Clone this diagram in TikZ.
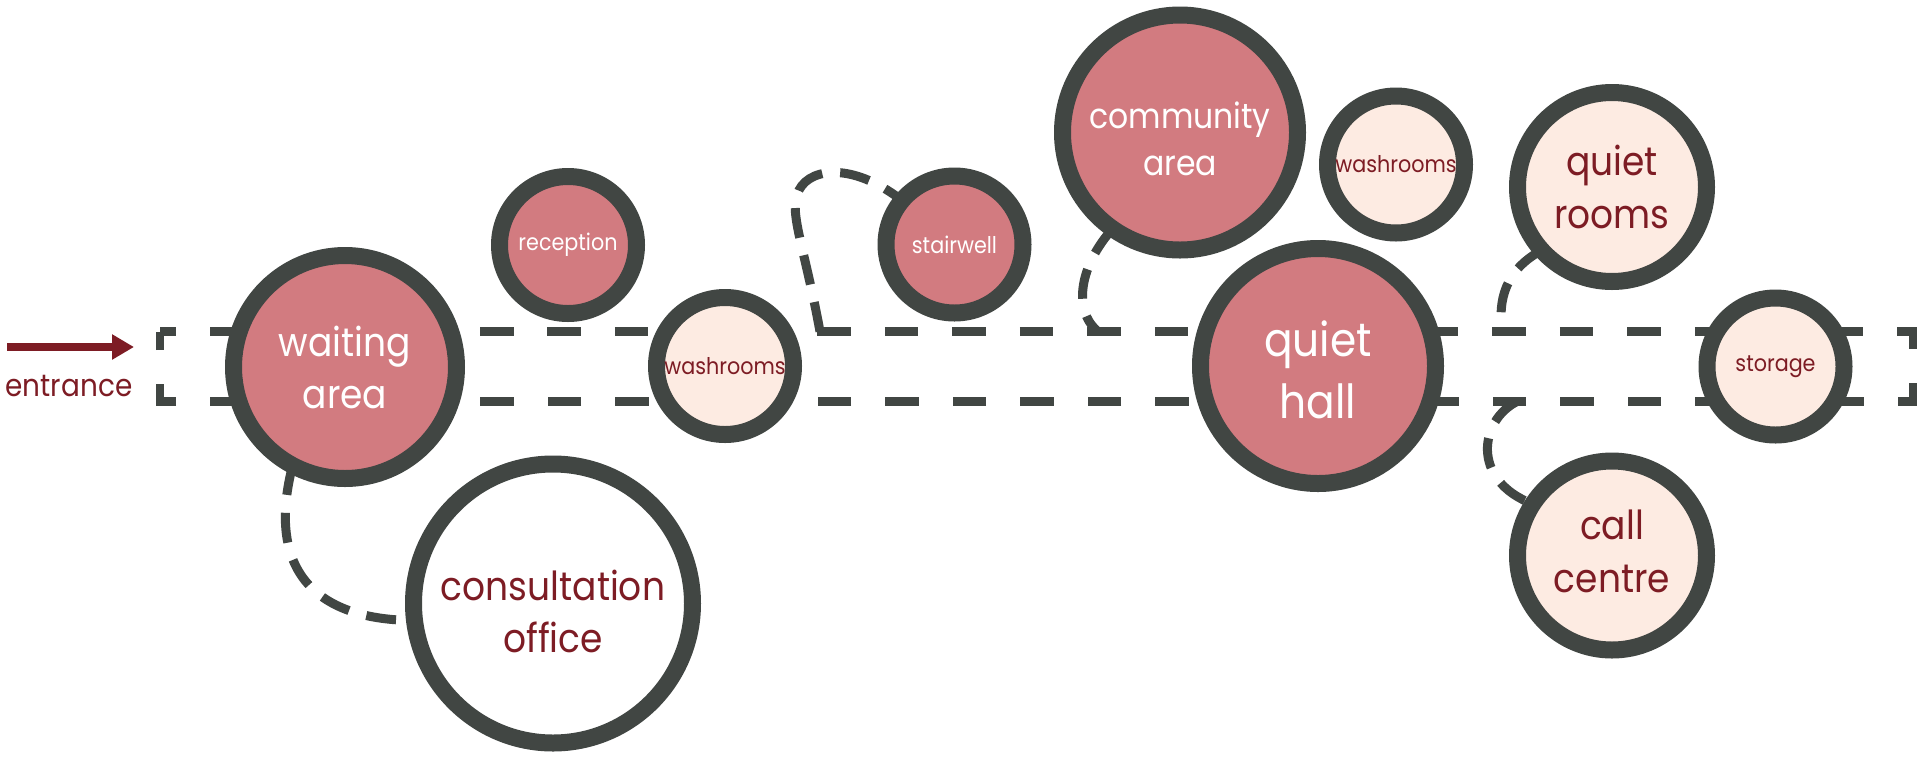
\documentclass[tikz,border=0pt]{standalone}
\usepackage{fontspec}
\setmainfont{Poppins}[FakeStretch=0.9]
\usetikzlibrary{arrows.meta}
\definecolor{stroke}{RGB}{65,70,67}
\definecolor{rose}{RGB}{210,123,128}
\definecolor{cream}{RGB}{253,235,226}
\definecolor{wine}{RGB}{125,28,36}
\pgfdeclarelayer{bg}
\pgfsetlayers{bg,main}
\tikzset{
  room/.style={circle, draw=stroke, line width=1.7mm, inner sep=0pt, outer sep=0pt, align=center, minimum size=#1},
  fhot/.style={fill=rose, text=white},
  fsoft/.style={fill=cream, text=wine},
  fplain/.style={fill=white, text=wine},
  rtext/.style={inner sep=0pt, align=center},
  corridor/.style={draw=stroke, line width=0.85mm, dash pattern=on 3.35mm off 3.4mm, dash phase=1.75mm},
  link/.style={draw=stroke, line width=0.9mm, dash pattern=on 3mm off 1.8mm},
  tsmall/.style={font=\fontsize{2.3mm}{3mm}\selectfont},
  tbig/.style={font=\fontsize{4mm}{5.2mm}\selectfont},
  tcomm/.style={font=\fontsize{3.5mm}{4.7mm}\selectfont},
  thall/.style={font=\fontsize{4.7mm}{6.2mm}\selectfont},
  tmid/.style={font=\fontsize{4mm}{5.3mm}\selectfont},
}
\begin{document}
\begin{tikzpicture}[x=0.1mm, y=-0.1mm]
\useasboundingbox (0,0) rectangle (1920,758);
\begin{pgfonlayer}{bg}
  \fill[white] (0,0) rectangle (1920,758);
\end{pgfonlayer}

% rooms
\node[room=22.3mm, fhot, tbig] (wait) at (345,367) {waiting\\area};
\node[room=13.7mm, fhot, tsmall] (recep) at (568,245) {reception};
\node[room=13.7mm, fsoft, tsmall] (wash1) at (725,366) {washrooms};
\node[room=27.9mm, fplain] (cons) at (553,603.5) {};
\node[rtext, tbig, text=wine] (consT) at ([yshift=-0.8mm]cons.center) {consultation\\office};
\node[room=13.7mm, fhot, tsmall] (stair) at (954.5,244.5) {stairwell};
\node[room=23.5mm, fhot] (comm) at (1180,132.5) {};
\node[rtext, tcomm, text=white] (commT) at ([yshift=-0.6mm]comm.center) {community\\area};
\node[room=13.7mm, fsoft, tsmall] (wash2) at (1396,164.5) {washrooms};
\node[room=23.5mm, fhot] (hall) at (1318,366) {};
\node[rtext, thall, text=white] (hallT) at ([yshift=-0.4mm]hall.center) {quiet\\hall};
\node[room=18.9mm, fsoft, tmid] (qrooms) at (1612,187) {quiet\\rooms};
\node[room=13.7mm, fsoft, tsmall] (store) at (1775.5,366.5) {storage};
\node[room=18.9mm, fsoft] (call) at (1612,555.5) {};
\node[rtext, tmid, text=wine] (callT) at ([yshift=0.4mm]call.center) {call\\centre};

% entrance
\coordinate (arrS) at (7,347);
\coordinate (arrE) at (134,347);
\draw[wine, line width=0.8mm, -{Triangle[length=2.2mm,width=2.4mm]}] (arrS) -- (arrE);
\node[anchor=base, text=wine, font=\fontsize{3.1mm}{3.6mm}\selectfont, inner sep=0pt] (ent) at (69,396) {entrance};

% corridor and links
\coordinate (cTL) at (160,331.5);
\coordinate (cTR) at (1913,331.5);
\coordinate (cBR) at (1913,401.5);
\coordinate (cBL) at (160,401.5);
\coordinate (stc) at (820,331.5);
\coordinate (hc) at (1098,331.5);
\coordinate (qc) at (1502,331.5);
\coordinate (cc) at (1517,401.5);
\begin{pgfonlayer}{bg}
  \draw[corridor] (cTL) -- (cTR) -- (cBR) -- (cBL) -- cycle;
  \draw[link] (wait.-118) .. controls (268,560) and (305,620) .. (cons.187);
  \draw[link] (stc) .. controls (805,250) and (790,215) .. (797,195)
              .. controls (805,168) and (850,160) .. (stair.140);
  \draw[link] (comm.-125) .. controls (1080,265) and (1072,310) .. (hc);
  \draw[link] (qrooms.-138) .. controls (1505,270) and (1498,300) .. (qc);
  \draw[link] (cc) .. controls (1480,420) and (1470,480) .. (call.147);
\end{pgfonlayer}
\end{tikzpicture}
\end{document}
